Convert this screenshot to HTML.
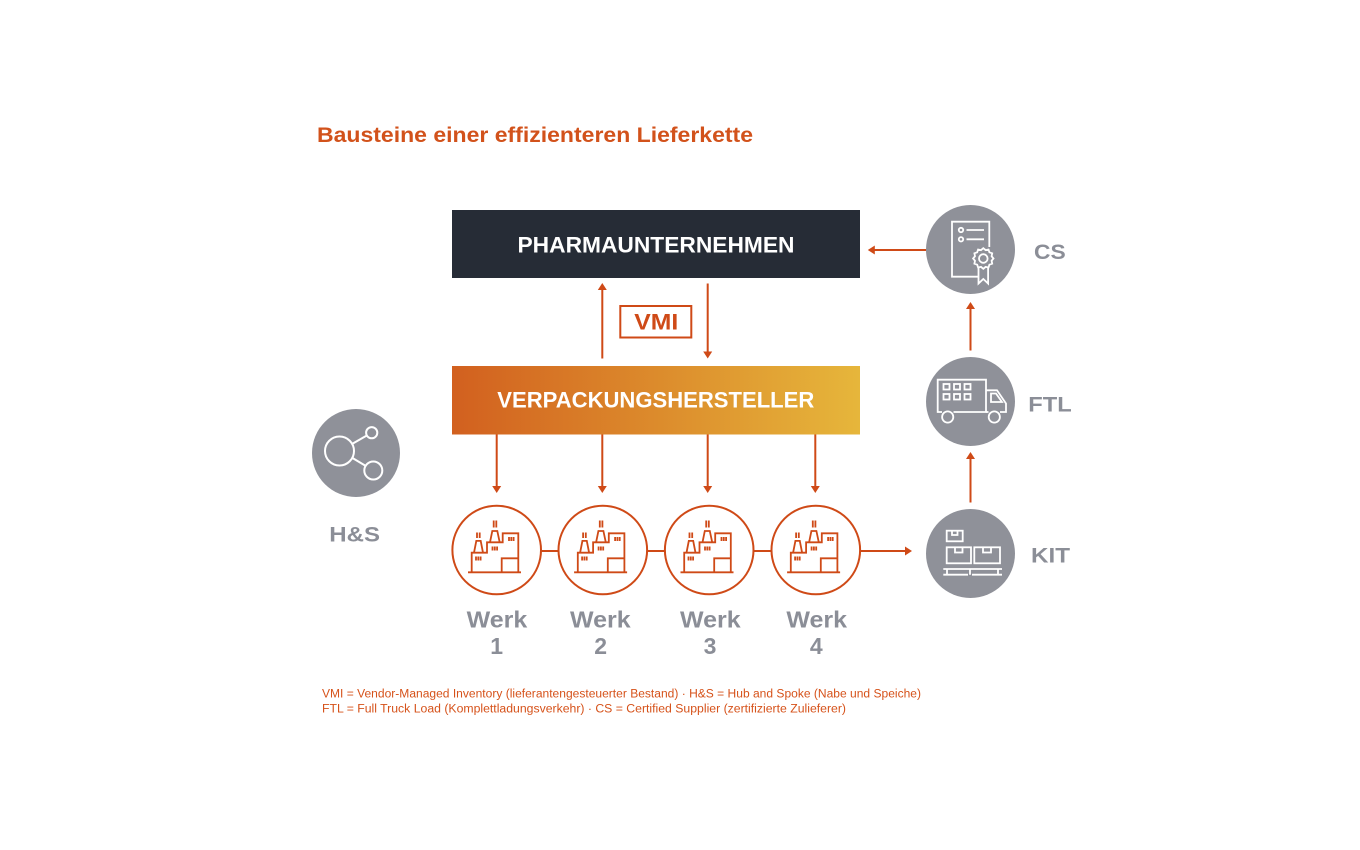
<!DOCTYPE html>
<html>
<head>
<meta charset="utf-8">
<style>
  html, body { margin:0; padding:0; background:#ffffff; }
  svg { display:block; }
  text { font-family: "Liberation Sans", "DejaVu Sans", sans-serif; font-weight:bold; }
  text.note { font-weight:normal; }
</style>
</head>
<body>
<svg width="1360" height="850" viewBox="0 0 1360 850" xmlns="http://www.w3.org/2000/svg">
  <defs>
    <linearGradient id="og" x1="0" y1="0" x2="1" y2="0">
      <stop offset="0" stop-color="#d2601f"/>
      <stop offset="0.5" stop-color="#dc8b2c"/>
      <stop offset="1" stop-color="#e6b63b"/>
    </linearGradient>
    <g id="factory" fill="none" stroke="#cf4a17" stroke-width="1.8" stroke-linejoin="miter">
      <path d="M-28.5 22.8 H24.5"/>
      <path d="M-24.8 22.8 V3.2 H-9.5 V-7.2 H6.2 V-16.2 H21.8 V22.8"/>
      <path d="M-22.5 3.2 L-20.2 -8.6 H-15.8 L-13.5 3.2"/>
      <path d="M-19.5 -17 V-11.5 M-16.8 -17 V-11.5"/>
      <path d="M-6.5 -7.2 L-4.2 -18.5 H0.8 L3.2 -7.2"/>
      <path d="M-2.8 -29 V-22 M-0.2 -29 V-22"/>
      <path d="M12.5 -12.5 V-8.5 M14.8 -12.5 V-8.5 M17.1 -12.5 V-8.5"/>
      <path d="M-4 -3 V1 M-1.7 -3 V1 M0.6 -3 V1"/>
      <path d="M-20.5 7 V11 M-18.2 7 V11 M-15.9 7 V11"/>
      <path d="M5.2 22.8 V8.8 H21.2"/>
    </g>
  </defs>

  <!-- Title -->
  <text x="317" y="142" font-size="21" fill="#d2521b" textLength="436" lengthAdjust="spacingAndGlyphs">Bausteine einer effizienteren Lieferkette</text>

  <!-- Pharma box -->
  <rect x="452" y="210" width="408" height="68" fill="#262c36"/>
  <text x="517.5" y="252.5" font-size="22.5" fill="#ffffff" textLength="277" lengthAdjust="spacingAndGlyphs">PHARMAUNTERNEHMEN</text>

  <!-- VMI arrows -->
  <g stroke="#cf4a17" stroke-width="2" fill="none">
    <line x1="602.3" y1="358.5" x2="602.3" y2="288"/>
    <line x1="707.7" y1="283.5" x2="707.7" y2="353"/>
  </g>
  <g fill="#cf4a17">
    <polygon points="602.3,283 597.8,290 606.8,290"/>
    <polygon points="707.7,358.5 703.2,351.5 712.2,351.5"/>
  </g>
  <rect x="620.3" y="306" width="71" height="31.5" fill="none" stroke="#cf4a17" stroke-width="2"/>
  <text x="634.3" y="329.3" font-size="22" fill="#cf4a17" textLength="44" lengthAdjust="spacingAndGlyphs">VMI</text>

  <!-- Orange box -->
  <rect x="452" y="366" width="408" height="68.5" fill="url(#og)"/>
  <text x="497.3" y="407.7" font-size="22" fill="#ffffff" textLength="317" lengthAdjust="spacingAndGlyphs">VERPACKUNGSHERSTELLER</text>

  <!-- Down arrows to plants -->
  <g stroke="#cf4a17" stroke-width="2">
    <line x1="496.7" y1="434.5" x2="496.7" y2="487"/>
    <line x1="602.3" y1="434.5" x2="602.3" y2="487"/>
    <line x1="707.7" y1="434.5" x2="707.7" y2="487"/>
    <line x1="815.3" y1="434.5" x2="815.3" y2="487"/>
  </g>
  <g fill="#cf4a17">
    <polygon points="496.7,493 492.2,486 501.2,486"/>
    <polygon points="602.3,493 597.8,486 606.8,486"/>
    <polygon points="707.7,493 703.2,486 712.2,486"/>
    <polygon points="815.3,493 810.8,486 819.8,486"/>
  </g>

  <!-- Plant connectors -->
  <g stroke="#cf4a17" stroke-width="2">
    <line x1="541" y1="551" x2="558.3" y2="551"/>
    <line x1="647.3" y1="551" x2="664.7" y2="551"/>
    <line x1="753.7" y1="551" x2="771.3" y2="551"/>
    <line x1="860.3" y1="551" x2="906" y2="551"/>
  </g>
  <polygon points="912,551 905,546.5 905,555.5" fill="#cf4a17"/>

  <!-- Plant circles -->
  <g fill="none" stroke="#cf4a17" stroke-width="2">
    <circle cx="496.7" cy="550" r="44.3"/>
    <circle cx="602.8" cy="550" r="44.3"/>
    <circle cx="709.2" cy="550" r="44.3"/>
    <circle cx="815.8" cy="550" r="44.3"/>
  </g>
  <use href="#factory" x="496.5" y="549.5"/>
  <use href="#factory" x="602.6" y="549.5"/>
  <use href="#factory" x="709" y="549.5"/>
  <use href="#factory" x="815.6" y="549.5"/>

  <!-- Werk labels -->
  <g fill="#8b8e97" font-size="23">
    <text x="466.7" y="627.7" textLength="60.6" lengthAdjust="spacingAndGlyphs">Werk</text>
    <text x="570" y="627.7" textLength="60.6" lengthAdjust="spacingAndGlyphs">Werk</text>
    <text x="680" y="627.7" textLength="60.6" lengthAdjust="spacingAndGlyphs">Werk</text>
    <text x="786.4" y="627.7" textLength="60.6" lengthAdjust="spacingAndGlyphs">Werk</text>
    <text x="496.7" y="654" text-anchor="middle">1</text>
    <text x="600.7" y="654" text-anchor="middle">2</text>
    <text x="710" y="654" text-anchor="middle">3</text>
    <text x="816.3" y="654" text-anchor="middle">4</text>
  </g>

  <!-- Right column circles -->
  <g fill="#8f9199">
    <circle cx="970.5" cy="249.5" r="44.5"/>
    <circle cx="970.5" cy="401.5" r="44.5"/>
    <circle cx="970.5" cy="553.5" r="44.5"/>
    <circle cx="356" cy="453" r="44"/>
  </g>

  <!-- Right column arrows -->
  <g stroke="#cf4a17" stroke-width="2">
    <line x1="926" y1="250" x2="874" y2="250"/>
    <line x1="970.5" y1="350.5" x2="970.5" y2="308"/>
    <line x1="970.5" y1="502.5" x2="970.5" y2="458"/>
  </g>
  <g fill="#cf4a17">
    <polygon points="867.8,250 874.8,245.5 874.8,254.5"/>
    <polygon points="970.5,302 966,309 975,309"/>
    <polygon points="970.5,452 966,459 975,459"/>
  </g>

  <!-- Certificate icon -->
  <g fill="none" stroke="#ffffff" stroke-width="1.8">
    <path d="M979 276.7 H952 V221.7 H989.3 V247"/>
    <circle cx="961" cy="230" r="2.2"/>
    <circle cx="961" cy="239.3" r="2.2"/>
    <line x1="966.5" y1="230" x2="984" y2="230"/>
    <line x1="966.5" y1="239.3" x2="984" y2="239.3"/>
    <path d="M983.3 248.2 L985.6 250.1 L988.5 249.5 L989.4 252.3 L992.2 253.3 L991.6 256.2 L993.5 258.5 L991.6 260.8 L992.2 263.7 L989.4 264.7 L988.5 267.5 L985.6 266.9 L983.3 268.8 L981 266.9 L978.1 267.5 L977.2 264.7 L974.4 263.7 L975 260.8 L973.1 258.5 L975 256.2 L974.4 253.3 L977.2 252.3 L978.1 249.5 L981 250.1 Z"/>
    <circle cx="983.3" cy="258.5" r="4.3"/>
    <path d="M978.5 267 V283.5 L983.3 279 L988.1 283.5 V267"/>
  </g>

  <!-- Truck icon -->
  <g fill="none" stroke="#ffffff" stroke-width="1.8">
    <path d="M942 412 H937.7 V379.7 H986 V412 H953.5"/>
    <path d="M986 390.3 H997 L1006 403.5 V412 H1000"/>
    <path d="M986 412 H988.5"/>
    <path d="M991 393.5 H996 L1002 402 H991 Z"/>
    <circle cx="947.7" cy="417" r="5.6"/>
    <circle cx="994.3" cy="417" r="5.6"/>
    <rect x="943.5" y="384" width="6" height="5.5"/>
    <rect x="954" y="384" width="6" height="5.5"/>
    <rect x="964.5" y="384" width="6" height="5.5"/>
    <rect x="943.5" y="394" width="6" height="5.5"/>
    <rect x="954" y="394" width="6" height="5.5"/>
    <rect x="964.5" y="394" width="6" height="5.5"/>
  </g>

  <!-- KIT icon -->
  <g fill="none" stroke="#ffffff" stroke-width="1.8">
    <rect x="946.7" y="530.7" width="16" height="10.6"/>
    <path d="M952 530.7 V535 H957.5 V530.7"/>
    <rect x="946.7" y="547.3" width="24.3" height="16"/>
    <path d="M955 547.3 V552.5 H962.5 V547.3"/>
    <rect x="974.3" y="547.3" width="25.7" height="16"/>
    <path d="M983 547.3 V552.5 H991 V547.3"/>
    <line x1="943.3" y1="569" x2="1002" y2="569"/>
    <path d="M943.3 574.7 H968 M972 574.7 H1002"/>
    <path d="M947 569 V574.7 M970 569 V574.7 M998 569 V574.7"/>
  </g>

  <!-- H&S icon -->
  <g fill="none" stroke="#ffffff" stroke-width="2">
    <circle cx="339.5" cy="451" r="14.5"/>
    <circle cx="371.7" cy="432.7" r="5.6"/>
    <circle cx="373.3" cy="470.5" r="9"/>
    <line x1="352" y1="444" x2="366.8" y2="435.5"/>
    <line x1="352.5" y1="458" x2="365" y2="465.5"/>
  </g>

  <!-- Right labels -->
  <g fill="#8b8e97" font-size="21">
    <text x="1034" y="259" textLength="31.7" lengthAdjust="spacingAndGlyphs">CS</text>
    <text x="1028.3" y="411.7" textLength="43.4" lengthAdjust="spacingAndGlyphs">FTL</text>
    <text x="1031" y="562.7" textLength="39" lengthAdjust="spacingAndGlyphs">KIT</text>
    <text x="329.3" y="541.7" textLength="50.7" lengthAdjust="spacingAndGlyphs">H&amp;S</text>
  </g>

  <!-- Footnotes -->
  <g fill="#d6521a" font-size="11.5">
    <text class="note" x="322" y="697.7" textLength="599" lengthAdjust="spacingAndGlyphs">VMI = Vendor-Managed Inventory (lieferantengesteuerter Bestand)  · H&amp;S = Hub and Spoke (Nabe und Speiche)</text>
    <text class="note" x="322" y="712.5" textLength="524" lengthAdjust="spacingAndGlyphs">FTL = Full Truck Load (Komplettladungsverkehr) · CS = Certified Supplier (zertifizierte Zulieferer)</text>
  </g>
</svg>
</body>
</html>
